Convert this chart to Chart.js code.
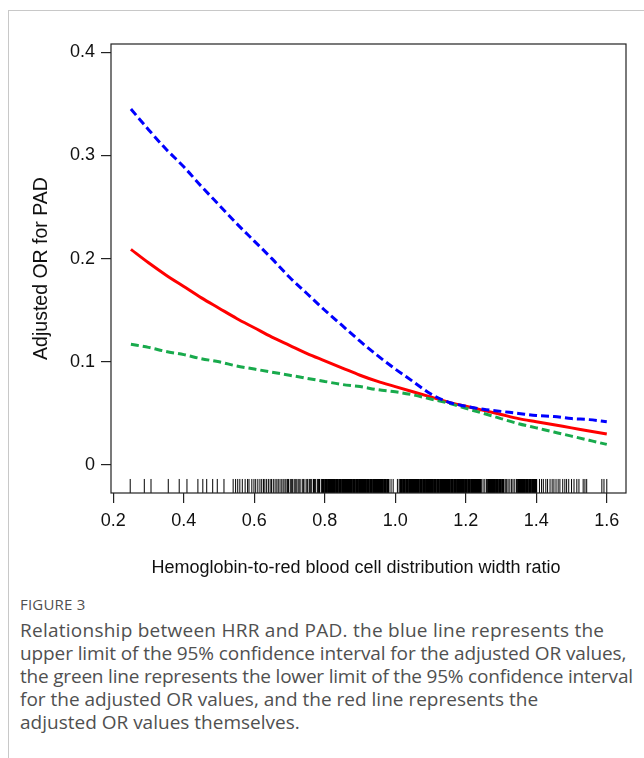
<!DOCTYPE html>
<html>
<head>
<meta charset="utf-8">
<script src="https://cdn.jsdelivr.net/npm/chart.js@4.4.1/dist/chart.umd.min.js"></script>
<style>
  html, body { margin: 0; padding: 0; background: #fff; }
  body { width: 644px; height: 758px; position: relative; overflow: hidden; }
  #frame {
    position: absolute; left: 8px; top: 10px; width: 640px; height: 760px;
    border-top: 1px solid #c8c8c8; border-left: 1px solid #c8c8c8;
  }
  #wrap { position: absolute; left: 0; top: 0; width: 644px; height: 585px; }
  #xtitle {
    position: absolute; left: 56px; width: 600px; top: 556px; text-align: center;
    font: 18px "Liberation Sans", Arial, sans-serif; line-height: 22px; color: #111;
  }
  #caption {
    position: absolute; left: 20px; top: 592px; width: 620px;
    font-family: "Open Sans", sans-serif; color: #505050;
  }
  #caption .fig { font-size: 15px; line-height: 27px; letter-spacing: 0.2px; }
  #caption .line { font-size: 19px; line-height: 23px; white-space: nowrap; }
</style>
</head>
<body>
<div id="frame"></div>
<div id="wrap"><canvas id="chart" width="644" height="585"></canvas></div>
<div id="xtitle">Hemoglobin-to-red blood cell distribution width ratio</div>
<div id="caption">
  <div class="fig" style="line-height:24px;margin-bottom:3px">FIGURE 3</div>
  <div class="line" style="letter-spacing:0.25px">Relationship between HRR and PAD. the blue line represents the</div>
  <div class="line" style="letter-spacing:-0.1px">upper limit of the 95% confidence interval for the adjusted OR values,</div>
  <div class="line" style="letter-spacing:-0.2px">the green line represents the lower limit of the 95% confidence interval</div>
  <div class="line">for the adjusted OR values, and the red line represents the</div>
  <div class="line">adjusted OR values themselves.</div>
</div>
<script>
const hrr = [0.25, 0.30, 0.35, 0.40, 0.45, 0.50, 0.55, 0.60, 0.65, 0.70, 0.75, 0.80, 0.85, 0.90,
             0.95, 1.00, 1.05, 1.10, 1.15, 1.20, 1.25, 1.30, 1.35, 1.40, 1.45, 1.50, 1.55, 1.60];

// adjusted OR (red), upper 95% CI (blue), lower 95% CI (green)
const orValues = [0.209, 0.196, 0.184, 0.173, 0.162, 0.152, 0.142, 0.133, 0.124, 0.116, 0.108, 0.101, 0.094, 0.087,
                  0.081, 0.076, 0.071, 0.066, 0.061, 0.057, 0.053, 0.049, 0.045, 0.042, 0.039, 0.036, 0.033, 0.030];
const upperCI = [0.345, 0.325, 0.306, 0.289, 0.270, 0.252, 0.234, 0.217, 0.200, 0.182, 0.166, 0.150, 0.135, 0.120,
                 0.106, 0.093, 0.081, 0.069, 0.061, 0.057, 0.054, 0.052, 0.050, 0.048, 0.047, 0.045, 0.044, 0.042];
const lowerCI = [0.117, 0.114, 0.110, 0.107, 0.103, 0.100, 0.096, 0.093, 0.090, 0.087, 0.084, 0.081, 0.078, 0.076,
                 0.073, 0.071, 0.068, 0.064, 0.060, 0.055, 0.050, 0.045, 0.040, 0.036, 0.032, 0.028, 0.024, 0.020];

// rug of observed HRR values (single ticks)
const rugSingle = [0.248, 0.288, 0.307, 0.356, 0.387, 0.409, 0.440, 0.454, 0.465, 0.482, 0.495, 0.514,
  0.540, 0.547, 0.553, 0.559, 0.566, 0.574, 0.581, 0.585, 0.593, 0.599, 0.604, 0.610, 0.616, 0.621,
  0.626, 0.630, 0.635, 0.640, 0.645, 0.649, 0.654, 0.659, 0.664, 0.668, 0.673, 0.678, 0.682,
  0.687, 0.690, 0.694, 0.697, 0.702, 0.705, 0.708, 0.713, 0.716, 0.719, 0.724, 0.727, 0.730, 0.736,
  0.739, 0.741, 0.747, 0.750, 0.752, 0.757, 0.760, 0.763, 0.768, 0.771, 0.774, 0.779, 0.782, 0.785, 0.790,
  0.988, 0.994, 1.006, 1.011, 1.249, 1.254, 1.259,
  1.312, 1.316, 1.320, 1.325, 1.330, 1.334, 1.339, 1.344,
  1.409, 1.415, 1.420, 1.427, 1.432, 1.439, 1.445, 1.450, 1.456, 1.462, 1.467, 1.475, 1.481, 1.486,
  1.492, 1.500, 1.507, 1.515, 1.521, 1.533, 1.538, 1.543, 1.586, 1.592, 1.600];
// rug where observations are so dense that the ticks merge
const rugDense = [0.795, 0.803, 0.811, 0.819, 0.827, 0.835, 0.843, 0.851, 0.859, 0.867, 0.875, 0.883,
  0.891, 0.899, 0.907, 0.915, 0.923, 0.931, 0.939, 0.947, 0.955, 0.963, 0.971, 0.979,
  1.017, 1.025, 1.033, 1.041, 1.049, 1.057, 1.065, 1.073, 1.081, 1.089, 1.097, 1.105, 1.113, 1.121,
  1.129, 1.137, 1.145, 1.153, 1.161, 1.169, 1.177, 1.185, 1.193, 1.201, 1.209, 1.217, 1.225, 1.233,
  1.241, 1.265, 1.273, 1.281, 1.289, 1.297, 1.305, 1.350, 1.358, 1.366, 1.374, 1.382, 1.390, 1.398];

const xTicks = [0.2, 0.4, 0.6, 0.8, 1.0, 1.2, 1.4, 1.6];
const yTicks = [0, 0.1, 0.2, 0.3, 0.4];

const rugLevel = -0.0203;
const toPoints = (xs, ys) => xs.map((x, i) => ({ x: x, y: ys[i] }));
const rugPoints = xs => xs.map(x => ({ x: x, y: rugLevel }));

// draws the full box round the plot area
const boxPlugin = {
    id: 'box',
    afterDraw(chart) {
        const { ctx, chartArea: a } = chart;
        ctx.save();
        ctx.strokeStyle = '#222';
        ctx.lineWidth = 1.2;
        ctx.strokeRect(a.left, a.top, a.right - a.left, a.bottom - a.top);
        ctx.restore();
    }
};

const font = { family: '"Liberation Sans", Arial, sans-serif', size: 18 };

new Chart(document.getElementById('chart'), {
    type: 'line',
    data: {
        datasets: [
            {
                data: toPoints(hrr, upperCI),
                borderColor: '#0000ff', borderWidth: 3, borderDash: [8, 4],
                pointRadius: 0, cubicInterpolationMode: 'monotone'
            },
            {
                data: toPoints(hrr, lowerCI),
                borderColor: '#18aa4c', borderWidth: 3, borderDash: [8, 4],
                pointRadius: 0, cubicInterpolationMode: 'monotone'
            },
            {
                data: toPoints(hrr, orValues),
                borderColor: '#ff0000', borderWidth: 3,
                pointRadius: 0, cubicInterpolationMode: 'monotone'
            },
            {
                type: 'scatter',
                data: rugPoints(rugSingle),
                pointStyle: 'line', rotation: 90, pointRadius: 7,
                borderColor: '#000', borderWidth: 1, showLine: false
            },
            {
                type: 'scatter',
                data: rugPoints(rugDense),
                pointStyle: 'line', rotation: 90, pointRadius: 7,
                borderColor: '#000', borderWidth: 3.2, showLine: false
            }
        ]
    },
    options: {
        responsive: false,
        animation: false,
        events: [],
        layout: { padding: { left: 0, top: 44, right: 18, bottom: 0 } },
        plugins: { legend: { display: false }, tooltip: { enabled: false } },
        scales: {
            x: {
                type: 'linear',
                min: 0.1935, max: 1.6545,
                afterBuildTicks: scale => { scale.ticks = xTicks.map(v => ({ value: v })); },
                afterFit: scale => { scale.height = 92; },
                ticks: {
                    color: '#111', font: font, padding: 7, autoSkip: false, maxRotation: 0,
                    callback: v => v.toFixed(1)
                },
                grid: { drawOnChartArea: false, color: '#222', tickLength: 10, lineWidth: 1.2 },
                border: { display: false }
            },
            y: {
                min: -0.0271, max: 0.408,
                afterBuildTicks: scale => { scale.ticks = yTicks.map(v => ({ value: v })); },
                afterFit: scale => { scale.width = 111; },
                ticks: {
                    color: '#111', font: font, padding: 6,
                    callback: v => v === 0 ? '0' : v.toFixed(1)
                },
                grid: { drawOnChartArea: false, color: '#222', tickLength: 10, lineWidth: 1.2 },
                border: { display: false },
                title: {
                    display: true,
                    text: 'Adjusted OR for PAD',
                    color: '#111', font: { family: font.family, size: 19.5 },
                    padding: { top: 30, bottom: 0 }
                }
            }
        }
    },
    plugins: [boxPlugin]
});
</script>
</body>
</html>
